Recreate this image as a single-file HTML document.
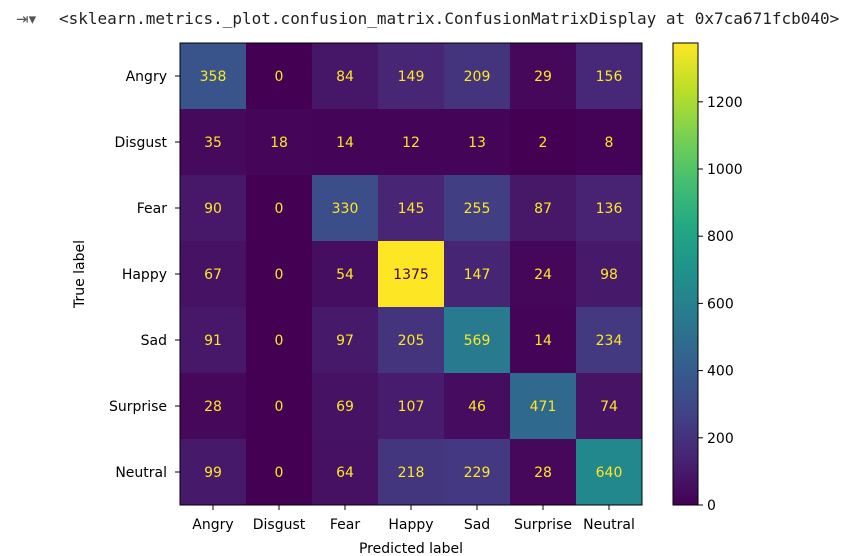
<!DOCTYPE html>
<html><head><meta charset="utf-8"><style>
body{margin:0;background:#fff;width:853px;height:556px;overflow:hidden;font-family:"DejaVu Sans","Liberation Sans",sans-serif}
#hdr{position:absolute;left:59px;top:9px;font-family:"DejaVu Sans Mono","Liberation Mono",monospace;font-size:16px;color:#212121}
#ico{position:absolute;left:16px;top:10px;font-size:15px;color:#555}
</style></head><body>
<div id="ico">⇥▾</div>
<div id="hdr">&lt;sklearn.metrics._plot.confusion_matrix.ConfusionMatrixDisplay at 0x7ca671fcb040&gt;</div>
<svg id="chart" width="853" height="556" style="position:absolute;left:0;top:0"></svg>
<script>
const labels=["Angry","Disgust","Fear","Happy","Sad","Surprise","Neutral"];
const row0=[358,0,84,149,209,29,156];
const row1=[35,18,14,12,13,2,8];
const row2=[90,0,330,145,255,87,136];
const row3=[67,0,54,1375,147,24,98];
const row4=[91,0,97,205,569,14,234];
const row5=[28,0,69,107,46,471,74];
const row6=[99,0,64,218,229,28,640];
const cbTicks=[0,200,400,600,800,1000,1200];
const matrix=[row0,row1,row2,row3,row4,row5,row6];

const vir=[[68,1,84],[72,35,116],[64,67,135],[52,94,141],[41,120,142],[32,144,140],[34,167,132],[68,190,112],[121,209,81],[189,222,38],[253,231,37]];
function viridis(t){t=Math.max(0,Math.min(1,t));const p=t*(vir.length-1);const i=Math.min(Math.floor(p),vir.length-2);const f=p-i;
const c=vir[i].map((v,k)=>Math.round(v+(vir[i+1][k]-v)*f));return `rgb(${c[0]},${c[1]},${c[2]})`;}
const NS="http://www.w3.org/2000/svg";const svg=document.getElementById('chart');
function mk(t,a,txt){const e=document.createElementNS(NS,t);for(const k in a)e.setAttribute(k,a[k]);if(txt!==undefined)e.textContent=txt;svg.appendChild(e);return e;}
const L=180,T=43,S=66,n=labels.length;
let vmin=Infinity,vmax=-Infinity;matrix.forEach(r=>r.forEach(v=>{vmin=Math.min(vmin,v);vmax=Math.max(vmax,v);}));
const xc=j=>L+S*j+S/2, yc=i=>T+S*i+S/2;
matrix.forEach((r,i)=>r.forEach((v,j)=>{
 const c=mk('rect',{x:L+S*j,y:T+S*i,width:S+0.5,height:S+0.5,fill:viridis((v-vmin)/(vmax-vmin))});
 
 
 const t=mk('text',{x:xc(j),y:yc(i)+5,'text-anchor':'middle','font-size':14,fill:v>(vmax+vmin)/2?viridis(0):viridis(1)},v);
 
 
}));
const fr=mk('rect',{x:L,y:T,width:S*n,height:S*n,fill:'none',stroke:'#000','stroke-width':1});


labels.forEach((lab,k)=>{
 mk('line',{x1:xc(k),x2:xc(k),y1:T+S*n,y2:T+S*n+5,stroke:'#000'});
 const a=mk('text',{x:xc(k),y:T+S*n+24,'text-anchor':'middle','font-size':14,fill:'#000'},lab);
 
 
 mk('line',{x1:L-5,x2:L,y1:yc(k),y2:yc(k),stroke:'#000'});
 const b=mk('text',{x:L-13,y:yc(k)+5,'text-anchor':'end','font-size':14,fill:'#000'},lab);
 
 
});
const xt=mk('text',{x:L+S*n/2,y:553,'text-anchor':'middle','font-size':14,fill:'#000'},'Predicted label');


const yt=mk('text',{x:84,y:T+S*n/2,'text-anchor':'middle','font-size':14,fill:'#000',transform:`rotate(-90 84 ${T+S*n/2})`},'True label');


const CX=673,CW=25,CT=T,CB=T+S*n;
const defs=mk('defs',{});const g=document.createElementNS(NS,'linearGradient');
g.setAttribute('id','vg');g.setAttribute('x1','0');g.setAttribute('y1','1');g.setAttribute('x2','0');g.setAttribute('y2','0');
for(let k=0;k<=20;k++){const s=document.createElementNS(NS,'stop');s.setAttribute('offset',k/20);s.setAttribute('stop-color',viridis(k/20));g.appendChild(s);}
defs.appendChild(g);
const cb=mk('rect',{x:CX,y:CT,width:CW,height:CB-CT,fill:'url(#vg)',stroke:'#000','stroke-width':1});


const cy=v=>CB-(v-vmin)/(vmax-vmin)*(CB-CT);
cbTicks.forEach(v=>{
 mk('line',{x1:CX+CW,x2:CX+CW+5,y1:cy(v),y2:cy(v),stroke:'#000'});
 const t=mk('text',{x:CX+CW+9,y:cy(v)+5,'font-size':14,fill:'#000'},v);
 
 
});
</script>
</body></html>
